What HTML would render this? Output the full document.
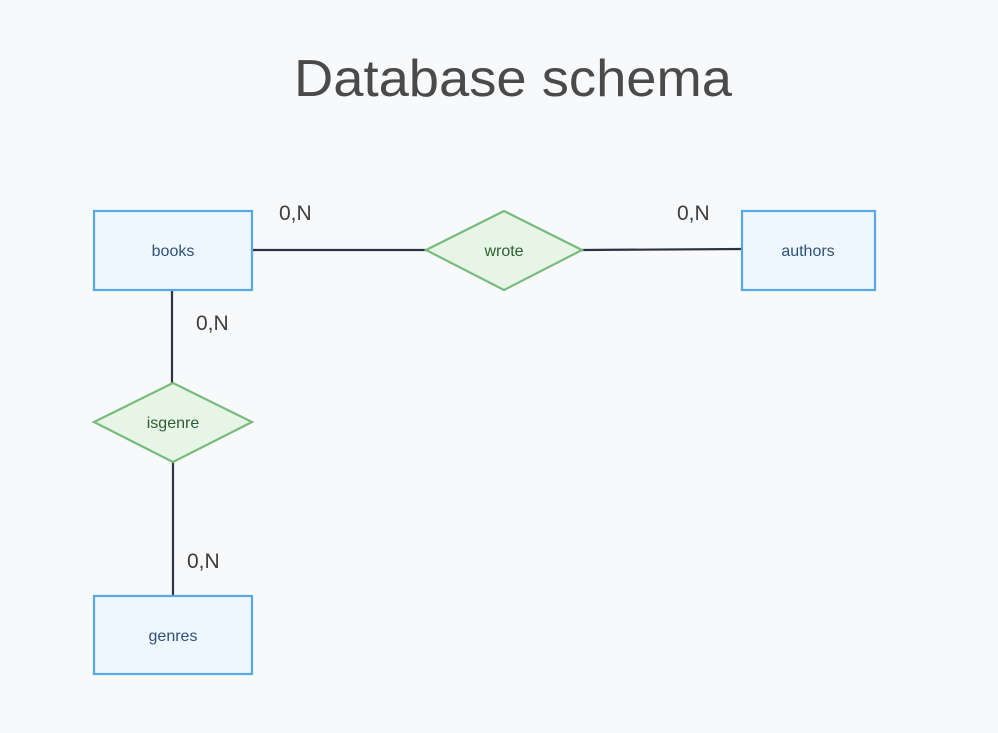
<!DOCTYPE html>
<html><head><meta charset="utf-8"><style>
html,body{margin:0;padding:0;background:#f8f9fb;}
svg{display:block}
</style></head><body>
<svg width="998" height="733" viewBox="0 0 998 733" xmlns="http://www.w3.org/2000/svg">
<rect width="998" height="733" fill="#f8f9fb"/>
<text x="513" y="96" text-anchor="middle" font-family="Liberation Sans, sans-serif" font-size="52" fill="#4a4a4a" textLength="438" lengthAdjust="spacingAndGlyphs">Database schema</text>
<g stroke="#2d3340" stroke-width="2.2" fill="none">
<line x1="253" y1="250" x2="426" y2="250"/>
<line x1="582" y1="250" x2="742" y2="249"/>
<line x1="172" y1="290" x2="172" y2="383"/>
<line x1="173" y1="462" x2="173" y2="596"/>
</g>
<g fill="#eef6ff" stroke="#58a8e6" stroke-width="2.2">
<rect x="94" y="211" width="158" height="79"/>
<rect x="742" y="211" width="133" height="79"/>
<rect x="94" y="596" width="158" height="78"/>
</g>
<g fill="#e6f5e6" stroke="#79bb7c" stroke-width="2.2">
<polygon points="504,211 582,250 504,290 426,250"/>
<polygon points="173,383 252,422 173,462 94,422"/>
</g>
<g font-family="Liberation Sans, sans-serif" font-size="16" text-anchor="middle" fill="#2f5378">
<text x="173" y="256">books</text>
<text x="808" y="256">authors</text>
<text x="173" y="641">genres</text>
</g>
<g font-family="Liberation Sans, sans-serif" font-size="16" text-anchor="middle" fill="#2e5d35">
<text x="504" y="256">wrote</text>
<text x="173" y="428">isgenre</text>
</g>
<g font-family="Liberation Sans, sans-serif" font-size="21" fill="#3d3d3d">
<text x="279" y="220">0,N</text>
<text x="677" y="220">0,N</text>
<text x="196" y="330">0,N</text>
<text x="187" y="568">0,N</text>
</g>
</svg>
</body></html>
